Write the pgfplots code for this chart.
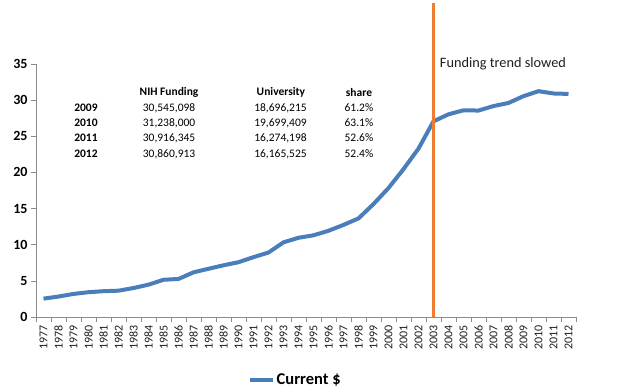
\documentclass[border=0pt]{standalone}
\usepackage{pgfplots}
\pgfplotsset{compat=1.18}
\usepackage{fontspec}
\setmainfont{Carlito}
\definecolor{lineblue}{RGB}{74,126,187}
\definecolor{lineorange}{RGB}{237,125,49}
\definecolor{axgrey}{RGB}{140,140,140}
\definecolor{txt}{RGB}{30,30,30}
\begin{document}
\begin{tikzpicture}
\begin{axis}[name=ax, scale only axis, width=540pt, height=253pt,
  xmin=-0.5, xmax=35.5, ymin=0, ymax=35,
  axis lines=left, axis line style={-, axgrey, line width=0.6pt},
  clip=false,
  xtick={0,...,35},
  xticklabels={1977,1978,1979,1980,1981,1982,1983,1984,1985,1986,1987,1988,1989,1990,1991,1992,1993,1994,1995,1996,1997,1998,1999,2000,2001,2002,2003,2004,2005,2006,2007,2008,2009,2010,2011,2012},
  minor xtick={-0.5,0.5,...,35.5},
  ytick={0,5,...,35},
  tick align=outside,
  major x tick style={draw=none},
  major tick length=5pt, minor tick length=5pt,
  tick style={axgrey, line width=0.6pt},
  xticklabel style={rotate=90, anchor=east, font=\fontsize{12}{13}\selectfont, text=txt},
  yticklabel style={font=\fontsize{14}{15}\selectfont\bfseries, text=black},
  /pgf/number format/assume math mode=true,
  legend style={at={(axis description cs:0.48,-0.249)}, anchor=center, draw=none,
    font=\fontsize{16.5}{18}\selectfont\bfseries, inner sep=0pt},
  legend image code/.code={\draw[#1] (0pt,0pt) -- (23pt,0pt);},
]
\addplot[lineblue, line width=4pt, line join=round] coordinates {
(0,2.54) (1,2.83) (2,3.19) (3,3.43) (4,3.57) (5,3.64) (6,4.01) (7,4.47)
(8,5.15) (9,5.26) (10,6.18) (11,6.67) (12,7.15) (13,7.58) (14,8.28) (15,8.92)
(16,10.33) (17,10.96) (18,11.30) (19,11.93) (20,12.74) (21,13.64) (22,15.63)
(23,17.84) (24,20.46) (25,23.30) (26,27.07) (27,28.04) (28,28.59) (29,28.56)
(30,29.18) (31,29.61) (32,30.55) (33,31.24) (34,30.92) (35,30.86)};
\addlegendentry{Current \$}
\addplot[lineorange, line width=3pt, forget plot] coordinates {(26,0) (26,43.4)};
\begin{scope}[font=\fontsize{11.5}{13}\selectfont]
\node[font=\fontsize{11.5}{13}\selectfont\bfseries] at (axis cs:8.37,31.12) {NIH Funding};
\node[font=\fontsize{11.5}{13}\selectfont\bfseries] at (axis cs:15.83,31.12) {University};
\node[font=\fontsize{11.5}{13}\selectfont\bfseries] at (axis cs:21.03,31.12) {share};
\node[font=\fontsize{11.5}{13}\selectfont\bfseries] at (axis cs:2.83,28.9) {2009};
\node[font=\fontsize{11.5}{13}\selectfont\bfseries] at (axis cs:2.83,26.83) {2010};
\node[font=\fontsize{11.5}{13}\selectfont\bfseries] at (axis cs:2.83,24.76) {2011};
\node[font=\fontsize{11.5}{13}\selectfont\bfseries] at (axis cs:2.83,22.55) {2012};
\node at (axis cs:8.37,28.9) {30,545,098};
\node at (axis cs:8.37,26.83) {31,238,000};
\node at (axis cs:8.37,24.76) {30,916,345};
\node at (axis cs:8.37,22.55) {30,860,913};
\node at (axis cs:15.8,28.9) {18,696,215};
\node at (axis cs:15.8,26.83) {19,699,409};
\node at (axis cs:15.8,24.76) {16,274,198};
\node at (axis cs:15.8,22.55) {16,165,525};
\node at (axis cs:21.03,28.9) {61.2\%};
\node at (axis cs:21.03,26.83) {63.1\%};
\node at (axis cs:21.03,24.76) {52.6\%};
\node at (axis cs:21.03,22.55) {52.4\%};
\end{scope}
\node[font=\fontsize{14.3}{15}\selectfont, text=txt] at (axis cs:30.63,35.0) {Funding trend slowed};
\end{axis}
\pgfresetboundingbox
\path ([shift={(-36pt,-75pt)}]ax.south west) rectangle ([shift={(55pt,64pt)}]ax.north east);
\end{tikzpicture}
\end{document}
